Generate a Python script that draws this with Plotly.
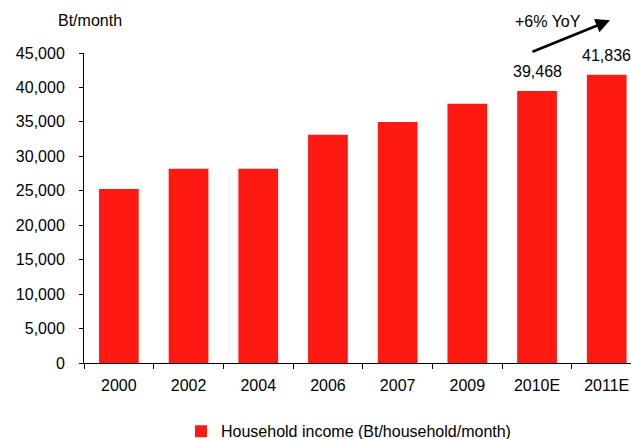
import plotly.graph_objects as go

# Household income, Bt per household per month
years = ["2000", "2002", "2004", "2006", "2007", "2009", "2010E", "2011E"]
income = [25250, 28200, 28200, 33150, 35000, 37650, 39468, 41836]
labelled_years = ["2010E", "2011E"]
series_name = "Household income (Bt/household/month)"
y_ticks = list(range(0, 45001, 5000))

FONT = "Liberation Sans, Arial, sans-serif"
RED = "#FF1913"

fig = go.Figure()
fig.add_trace(go.Bar(
    x=years,
    y=income,
    name=series_name,
    marker=dict(color=RED, line=dict(width=0)),
    showlegend=True,
))

# value labels above the forecast bars
for yr, v in zip(years, income):
    if yr in labelled_years:
        fig.add_annotation(
            x=yr, y=v, xref="x", yref="y",
            text=f"{v:,}", showarrow=False,
            yanchor="bottom", yshift=9,
            font=dict(family=FONT, size=16, color="black"),
        )

# growth arrow and caption
fig.add_annotation(
    xref="paper", yref="paper", x=(610 - 84) / 547, y=(362.7 - 20) / 310,
    ax=-79, ay=32, axref="pixel", ayref="pixel",
    text="", showarrow=True, arrowhead=2, arrowsize=1.1, arrowwidth=2.6,
    arrowcolor="black",
)
fig.add_annotation(
    xref="paper", yref="paper", x=(548 - 84) / 547, y=(362.7 - 21.5) / 310,
    text="+6% YoY", showarrow=False, xanchor="center", yanchor="middle",
    font=dict(family=FONT, size=16, color="black"),
)
# axis unit caption
fig.add_annotation(
    xref="paper", yref="paper", x=(56 - 84) / 547, y=(362.7 - 20) / 310,
    text="Bt/month", showarrow=False, xanchor="left", yanchor="middle",
    font=dict(family=FONT, size=16, color="black"),
)

fig.update_layout(
    width=631, height=439,
    margin=dict(l=84, r=0, t=53, b=76, pad=0, autoexpand=False),
    paper_bgcolor="white", plot_bgcolor="white",
    font=dict(family=FONT, size=16, color="black"),
    bargap=0.43,
    showlegend=True,
    legend=dict(
        orientation="h", x=(181 - 84) / 547, xanchor="left",
        y=-(431 - 362.7) / 310, yanchor="middle",
        font=dict(family=FONT, size=16, color="black"),
        itemsizing="constant",
    ),
    xaxis=dict(
        type="category", range=[-0.5, 7.348],
        showline=True, linecolor="black", linewidth=1,
        ticks="outside", ticklen=5, tickcolor="black", tickwidth=1,
        tickson="boundaries", showgrid=False, zeroline=False,
        ticklabelstandoff=8,
    ),
    yaxis=dict(
        range=[0, 45000], tickvals=y_ticks,
        tickformat=",d",
        showline=True, linecolor="black", linewidth=1,
        ticks="outside", ticklen=4, tickcolor="black", tickwidth=1,
        showgrid=False, zeroline=False,
        ticklabelstandoff=11,
    ),
)

fig.write_html("out.html")
